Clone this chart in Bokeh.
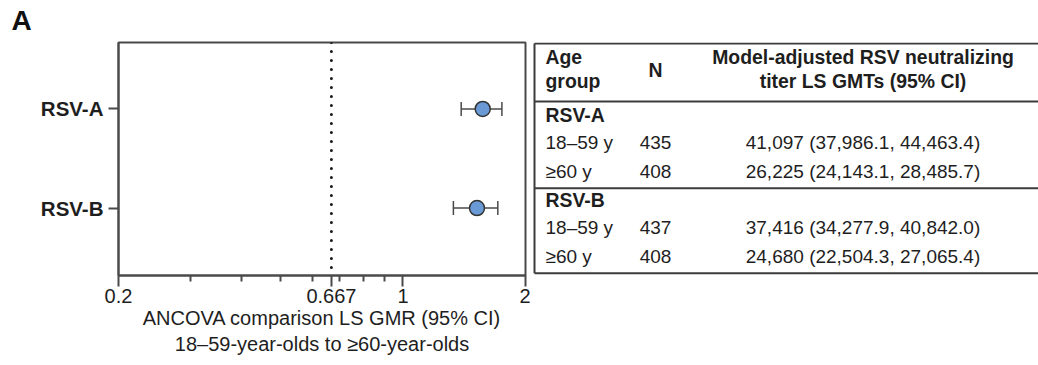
from bokeh.plotting import figure
from bokeh.layouts import row
from bokeh.models import (ColumnDataSource, FixedTicker, Span, Whisker, TeeHead, Range1d)
from bokeh.core.properties import value
from bokeh.embed import file_html
from bokeh.resources import INLINE

# ---------------- data ----------------
strains = ["RSV-A", "RSV-B"]
gmr = [1.57, 1.52]            # LS GMR, 18-59 y vs >=60 y
gmr_lower = [1.39, 1.33]
gmr_upper = [1.75, 1.71]

x_ticks = [0.2, 0.667, 1, 2]
x_minor_ticks = [0.3, 0.4, 0.5, 0.6, 0.7, 0.8, 0.9]
margin_ratio = 0.667

age_groups = ["18–59 y", "≥60 y"]
n_rsv_a = [435, 408]
gmt_rsv_a = [41097, 26225]
gmt_lo_rsv_a = [37986.1, 24143.1]
gmt_hi_rsv_a = [44463.4, 28485.7]
n_rsv_b = [437, 408]
gmt_rsv_b = [37416, 24680]
gmt_lo_rsv_b = [34277.9, 22504.3]
gmt_hi_rsv_b = [40842.0, 27065.4]

FONT = "Liberation Sans"
INK = "#1e1e1e"
FRAME = "#4a4a4a"

# ---------------- forest plot ----------------
ypos = [i + 1 for i in range(len(strains))]
src = ColumnDataSource(dict(y=ypos, gmr=gmr, lo=gmr_lower, hi=gmr_upper))

p = figure(frame_width=407, frame_height=233, x_axis_type="log",
           x_range=Range1d(0.2, 2), y_range=Range1d(2.68, 0.33),
           output_backend="svg", toolbar_location=None,
           min_border_left=118, min_border_right=5,
           min_border_top=41, min_border_bottom=91)
p.xgrid.visible = False
p.ygrid.visible = False
p.outline_line_color = FRAME
p.outline_line_width = 2
p.outline_line_alpha = 1

p.title.text = "A"
p.title.align = "left"
p.title.vertical_align = "top"
p.title.offset = -107
p.title.standoff = 9
p.title.text_font = FONT
p.title.text_font_size = "28px"
p.title.text_font_style = "bold"
p.title.text_color = "#111111"

xa = p.xaxis[0]
xa.ticker = FixedTicker(ticks=x_ticks, minor_ticks=x_minor_ticks)
xa.major_label_overrides = {t: str(t) for t in x_ticks}
xa.major_tick_in = 0
xa.major_tick_out = 11
xa.minor_tick_in = 0
xa.minor_tick_out = 6
xa.axis_line_color = FRAME
xa.axis_line_width = 2
xa.major_tick_line_color = FRAME
xa.major_tick_line_width = 2
xa.minor_tick_line_color = FRAME
xa.minor_tick_line_width = 2
xa.major_label_text_font = FONT
xa.major_label_text_font_size = "20px"
xa.major_label_text_color = INK
xa.major_label_standoff = 2
xa.axis_label = "ANCOVA comparison LS GMR (95% CI)\n18–59-year-olds to ≥60-year-olds"
xa.axis_label_text_font = FONT
xa.axis_label_text_font_size = "20px"
xa.axis_label_text_font_style = "normal"
xa.axis_label_text_color = INK
xa.axis_label_standoff = 1

ya = p.yaxis[0]
ya.ticker = FixedTicker(ticks=ypos)
ya.major_label_overrides = {y: s for y, s in zip(ypos, strains)}
ya.major_tick_in = 0
ya.major_tick_out = 10
ya.minor_tick_out = 0
ya.axis_line_color = FRAME
ya.axis_line_width = 2
ya.major_tick_line_color = FRAME
ya.major_tick_line_width = 2
ya.major_label_text_font = FONT
ya.major_label_text_font_size = "20.5px"
ya.major_label_text_font_style = "bold"
ya.major_label_text_color = INK
ya.major_label_standoff = 5

p.add_layout(Span(location=margin_ratio, dimension="height", line_color="#1a1a1a",
                  line_width=3, line_dash="0 9", line_cap="round"))

wh = Whisker(source=src, base="y", lower="lo", upper="hi", dimension="width",
             line_color=FRAME, line_width=1.5, level="underlay")
wh.upper_head = TeeHead(size=14, line_color=FRAME, line_width=1.5)
wh.lower_head = TeeHead(size=14, line_color=FRAME, line_width=1.5)
p.add_layout(wh)
p.scatter("gmr", "y", source=src, size=15, fill_color="#6a9ad6",
          line_color="#333333", line_width=1.5)

# ---------------- GMT table ----------------
# vertical range in pixel units of the shared frame band (41..274)
t = figure(frame_width=508, frame_height=233,
           x_range=Range1d(530, 1038), y_range=Range1d(274, 41),
           x_axis_location=None, y_axis_location=None,
           output_backend="svg", toolbar_location=None,
           min_border_left=0, min_border_right=0,
           min_border_top=41, min_border_bottom=91)
t.xgrid.visible = False
t.ygrid.visible = False
t.outline_line_color = None

col_age, col_n, col_gmt = 545, 655, 862.5
rule_left, rule_right = 534, 1038
rules_y = [42, 100, 186.7, 271.7]
t.segment(x0=[rule_left] * len(rules_y), x1=[rule_right] * len(rules_y),
          y0=rules_y, y1=rules_y, line_color="#3c3c3c", line_width=2)
t.segment(x0=[rule_left], x1=[rule_left], y0=[rules_y[0]], y1=[rules_y[-1]],
          line_color="#3c3c3c", line_width=2)

hdr = dict(text_font=value(FONT), text_font_size="19.4px", text_font_style="bold",
           text_color=INK, text_baseline="alphabetic")
t.text(x=[col_age, col_age], y=[55, 79.5], text=["Age", "group"], text_align="left", **hdr)
t.text(x=[col_n], y=[68], text=["N"], text_align="center", **hdr)
t.text(x=[col_gmt, col_gmt], y=[55, 79.5],
       text=["Model-adjusted RSV neutralizing", "titer LS GMTs (95% CI)"],
       text_align="center", **hdr)

blocks = [
    ("RSV-A", n_rsv_a, gmt_rsv_a, gmt_lo_rsv_a, gmt_hi_rsv_a),
    ("RSV-B", n_rsv_b, gmt_rsv_b, gmt_lo_rsv_b, gmt_hi_rsv_b),
]
block_base = [113, 198]
step = 28.3
for (name, ns, gmts, los, his), base in zip(blocks, block_base):
    t.text(x=[col_age], y=[base], text=[name], text_align="left", **hdr)
    ys = [base + step * (k + 1) for k in range(len(age_groups))]
    body = ColumnDataSource(dict(
        y=ys, age=age_groups, n=[str(v) for v in ns],
        gmt=[f"{g:,} ({lo:,.1f}, {hi:,.1f})" for g, lo, hi in zip(gmts, los, his)]))
    common = dict(source=body, text_font=value(FONT), text_font_size="19px",
                  text_color=INK, text_baseline="alphabetic")
    t.text(x=col_age, y="y", text="age", text_align="left", **common)
    t.text(x=col_n, y="y", text="n", text_align="center", **common)
    t.text(x=col_gmt, y="y", text="gmt", text_align="center", **common)

layout = row(p, t)
open("out.html", "w").write(file_html(layout, INLINE))
